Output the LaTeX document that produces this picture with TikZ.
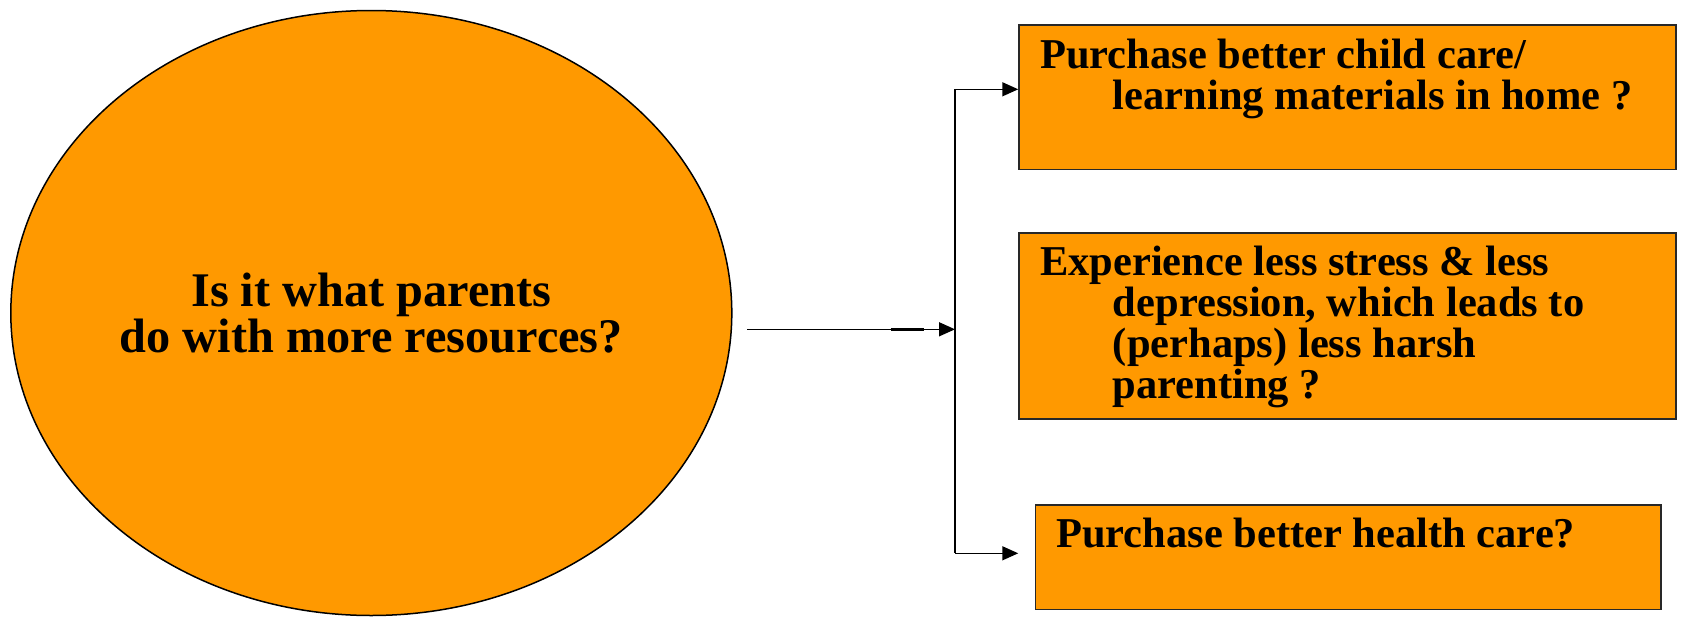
\documentclass[tikz,border=0pt]{standalone}
\usepackage{fontspec}
\setmainfont{Liberation Serif}
\usetikzlibrary{shapes.geometric,arrows.meta}
\definecolor{boxorange}{RGB}{255,153,0}
\definecolor{edgegray}{RGB}{40,40,40}
\tikzset{
  bubble/.style={ellipse, draw=black, fill=boxorange, line width=1.5pt, inner sep=0pt,
    minimum width=721pt, minimum height=605pt, align=center,
    font=\bfseries\fontsize{48.3}{45.6}\selectfont},
  answerbox/.style={rectangle, draw=edgegray, fill=boxorange, line width=1.6pt, inner sep=0pt},
  answertext/.style={anchor=base west, inner sep=0pt, font=\bfseries\fontsize{42.5}{41.2}\selectfont},
  link/.style={draw=black, line width=1.5pt},
  linkarrow/.style={link, -{Triangle[length=16pt,width=14pt]}}
}
\newcommand{\hangtext}[1]{\parbox[t]{640pt}{\parindent=0pt\hangindent=72.7pt\hangafter=1 #1}}
\begin{document}
\begin{tikzpicture}[x=1pt,y=-1pt]
\useasboundingbox (0,0) rectangle (1681,616);
\node[bubble] (q) at (371.3,313) {Is it what parents\\do with more resources?};
\node[answerbox, minimum width=656.7pt, minimum height=144.3pt] (b1) at (1347.4,97.2) {};
\node[answerbox, minimum width=657pt, minimum height=186pt] (b2) at (1347.5,326) {};
\node[answerbox, minimum width=625.7pt, minimum height=104.3pt] (b3) at (1348.2,557.2) {};
\node[answertext] (t1) at (1040,68.3) {\hangtext{Purchase better child care/\\learning materials in home ?}};
\node[answertext] (t2) at (1040,275) {\hangtext{Experience less stress \& less\\depression, which leads to\\(perhaps) less harsh\\parenting ?}};
\node[answertext] (t3) at (1056,547) {Purchase better health care?};
\coordinate (src) at (747,329.3);
\coordinate (j) at (955,329.3);
\coordinate (jtop) at (955,89.3);
\coordinate (jbot) at (955,553.3);
\coordinate (ovA) at (890.7,329.3);
\coordinate (ovB) at (924,329.3);
\draw[linkarrow] (src) -- (j);
\draw[link, line width=2.4pt] (ovA) -- (ovB);
\draw[link] (jtop) -- (jbot);
\draw[linkarrow] (jtop) -- (jtop -| b1.west);
\draw[linkarrow] (jbot) -- (jbot -| b1.west);
\end{tikzpicture}
\end{document}
